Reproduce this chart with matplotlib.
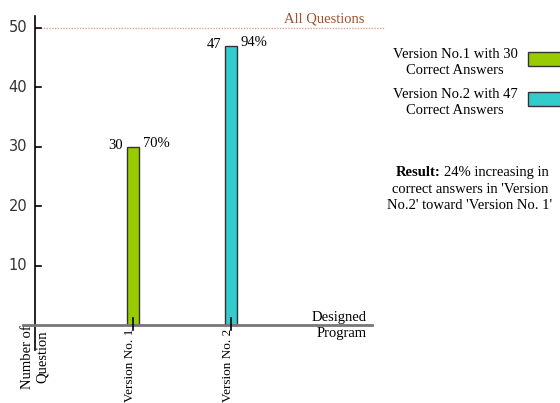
import matplotlib
matplotlib.use("Agg")
import matplotlib.pyplot as plt
from matplotlib.patches import Rectangle

# data
versions = ["Version No. 1", "Version No. 2"]
correct = [30, 47]
percents = ["70%", "94%"]
colors = ["#99cc00", "#33cccc"]
legend_labels = ["Version No.1 with 30\nCorrect Answers", "Version No.2 with 47\nCorrect Answers"]
total_questions = 50
yticks = [10, 20, 30, 40, 50]

W, H = 560, 403
SERIF = "Liberation Serif"
FS = 10.5
LS = 1.3

def px(x, y):
    return x / W, 1 - y / H

fig = plt.figure(figsize=(W / 100, H / 100), dpi=100)
ax = fig.add_axes([35 / W, (H - 350) / H, 350 / W, 334 / H])
ax.set_xlim(0, 350 / 98)
ax.set_ylim(-4.2, 52)
ax.axis("off")

xpos = [1, 2]
ax.bar(xpos, correct, width=0.125, color=colors, edgecolor="#333333", linewidth=1, zorder=3)

# axes lines
ax.plot([0, 0], [-4.2, 52], color="black", lw=1.2, clip_on=False)
ax.plot([-0.12, 3.44], [0, 0], color="#777777", lw=2, clip_on=False, zorder=4)
ax.axhline(total_questions, xmin=0, xmax=1, color="#d9a593", lw=1, ls=(0, (1, 1)), zorder=1)

for t in yticks:
    ax.plot([-0.06, 0.06], [t, t], color="black", lw=1.2)
    ax.text(-0.08, t, str(t), ha="right", va="center", fontsize=10.5, color="#333333",
            family="DejaVu Sans")
for x in xpos:
    ax.plot([x, x], [-0.8, 1.2], color="black", lw=1.2, zorder=5)

for x, v, p in zip(xpos, correct, percents):
    ax.text(x - 0.1, v + 0.2, str(v), ha="right", va="center", fontsize=FS, family=SERIF)
    ax.text(x + 0.1, v + 0.6, p, ha="left", va="center", fontsize=FS, family=SERIF)

for x, name in zip(xpos, versions):
    ax.text(x - 0.03, -0.6, name, rotation=90, ha="center", va="top", fontsize=9.5, family=SERIF)

ax.text(3.36, 50.4, "All Questions", ha="right", va="bottom", fontsize=FS, color="#a0522d", family=SERIF)

fig.text(*px(35, 357), "Number of\nQuestion", rotation=90, ha="center", va="center",
         fontsize=FS, family=SERIF, linespacing=1.15, multialignment="center")
fig.text(*px(367, 326), "Designed\nProgram", ha="right", va="center", fontsize=FS,
         family=SERIF, linespacing=LS, multialignment="right")

# legend
for i, (lab, c) in enumerate(zip(legend_labels, colors)):
    yc = 62 + i * 40
    fig.text(*px(455, yc), lab, ha="center", va="center", fontsize=FS, family=SERIF,
             linespacing=LS)
    x0, y0 = px(528, yc - 3 + 7)
    fig.patches.append(Rectangle((x0, y0), 40 / W, 14 / H, transform=fig.transFigure,
                                 facecolor=c, edgecolor="#333333", lw=1))

# result note
t1 = fig.text(*px(396, 173), "Result:", ha="left", va="center", fontsize=FS,
              family=SERIF, weight="bold")
fig.canvas.draw()
bb = t1.get_window_extent()
fig.text((bb.x1 + 3) / W, 1 - 173 / H, "24% increasing in", ha="left", va="center",
         fontsize=FS, family=SERIF)
fig.text(*px(470, 197), "correct answers in 'Version\nNo.2' toward 'Version No. 1'",
         ha="center", va="center", fontsize=FS, family=SERIF, linespacing=LS)

fig.savefig("out.png", dpi=100, facecolor="white")
